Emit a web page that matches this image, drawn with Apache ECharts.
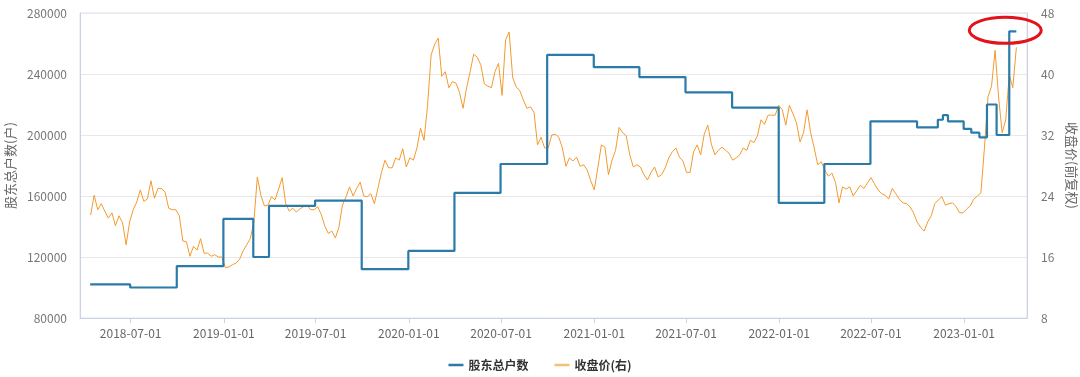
<!DOCTYPE html>
<html>
<head>
<meta charset="utf-8">
<title>股东总户数与收盘价</title>
<script src="https://cdn.jsdelivr.net/npm/echarts@6/dist/echarts.min.js"></script>
<style>
  html, body { margin: 0; padding: 0; background: #fff; }
  #chart { width: 1080px; height: 377px; }
</style>
</head>
<body>
<div id="chart"></div>
<script>
// 股东总户数：每个台阶的起始日期与户数（最后一个点为结束日期）
const holderDates = ['2018-04-12', '2018-06-30', '2018-09-30', '2018-12-31', '2019-02-28', '2019-03-31',
  '2019-06-30', '2019-09-30', '2019-12-31', '2020-03-31', '2020-06-30', '2020-09-30', '2020-12-31',
  '2021-03-31', '2021-06-30', '2021-09-30', '2021-12-31', '2022-03-31', '2022-06-30', '2022-09-30',
  '2022-11-10', '2022-11-20', '2022-11-30', '2022-12-31', '2023-01-15', '2023-01-31', '2023-02-15',
  '2023-03-06', '2023-03-31', '2023-04-14'];
const holderValues = [102000, 100000, 114000, 145000, 120000, 153500,
  157000, 112000, 124000, 162000, 181000, 252500, 244500,
  238000, 228000, 218000, 155500, 181000, 209000, 205000,
  210000, 213000, 209000, 204000, 201500, 198500, 220000,
  200000, 268000, 268000];

// 收盘价(前复权)，周收盘，自 2018-04-13 起每周一个值
const priceStart = '2018-04-13';
const priceValues = [
  21.5, 24.1, 22.2, 23.0, 22.0, 21.1, 21.8, 20.1, 21.4, 20.5,
  17.6, 20.6, 22.2, 23.2, 24.8, 23.3, 23.6, 26.0, 23.7, 25.0,
  25.0, 24.5, 22.4, 22.2, 22.2, 21.4, 18.1, 18.0, 16.1, 17.4,
  16.9, 18.4, 16.5, 16.5, 16.1, 16.3, 16.0, 16.0, 14.6, 14.7,
  15.0, 15.2, 15.7, 16.8, 17.6, 18.4, 20.5, 26.5, 24.1, 22.7,
  22.8, 23.9, 23.5, 24.9, 26.4, 23.0, 22.0, 22.4, 21.9, 22.3,
  22.6, 22.8, 22.2, 22.2, 22.6, 21.6, 20.1, 19.1, 19.4, 18.5,
  19.9, 22.8, 23.9, 25.2, 24.0, 25.0, 25.8, 24.0, 23.9, 24.3,
  23.0, 25.0, 27.1, 28.7, 27.7, 27.7, 29.0, 28.7, 30.2, 27.8,
  29.0, 28.7, 30.3, 32.9, 31.3, 35.9, 42.5, 43.9, 44.7, 39.7,
  40.3, 38.2, 39.0, 38.8, 37.6, 35.5, 38.2, 40.3, 42.6, 42.2,
  41.2, 38.7, 38.4, 38.2, 40.3, 41.4, 37.2, 44.5, 45.5, 39.5,
  38.3, 37.8, 36.6, 35.5, 35.7, 35.0, 30.7, 31.7, 30.3, 30.3,
  32.0, 32.1, 31.7, 30.3, 27.9, 29.0, 28.6, 29.1, 27.9, 28.1,
  27.4, 26.0, 24.8, 27.7, 30.7, 30.4, 26.8, 28.7, 30.0, 33.0,
  32.3, 31.9, 29.4, 27.8, 28.1, 27.8, 26.8, 26.1, 27.1, 27.8,
  26.5, 26.8, 27.7, 29.0, 29.8, 30.3, 29.1, 28.6, 27.1, 27.1,
  29.8, 30.7, 29.4, 32.1, 33.3, 30.8, 29.4, 30.0, 30.4, 30.0,
  29.6, 28.7, 29.0, 29.4, 30.3, 30.0, 31.3, 31.0, 31.9, 34.0,
  33.4, 34.6, 34.6, 34.6, 35.9, 35.3, 33.3, 35.9, 34.8, 33.6,
  31.1, 32.3, 35.3, 32.3, 30.3, 28.1, 28.5, 27.4, 26.6, 27.0,
  25.8, 23.1, 25.2, 24.9, 25.2, 24.0, 24.7, 25.4, 25.0, 25.7,
  26.4, 25.6, 24.8, 24.3, 24.1, 23.6, 25.0, 24.3, 23.6, 23.1,
  23.0, 22.6, 21.8, 20.6, 19.9, 19.4, 20.6, 21.4, 23.0, 23.5,
  23.9, 22.8, 23.0, 23.1, 22.6, 21.8, 21.8, 22.3, 22.7, 23.6,
  24.0, 24.4, 30.3, 37.0, 38.4, 43.1, 36.9, 32.3, 34.0, 39.9,
  38.2, 43.5
];

// x 轴刻度
const tickLabels = ['2018-07-01', '2019-01-01', '2019-07-01', '2020-01-01', '2020-07-01',
  '2021-01-01', '2021-07-01', '2022-01-01', '2022-07-01', '2023-01-01'];

function fmt(d) {
  const m = String(d.getUTCMonth() + 1).padStart(2, '0');
  const day = String(d.getUTCDate()).padStart(2, '0');
  return d.getUTCFullYear() + '-' + m + '-' + day;
}

// 每周日期
const startMs = Date.parse(priceStart + 'T00:00:00Z');
const priceData = priceValues.map((v, i) => [fmt(new Date(startMs + i * 7 * 86400000)), v]);
const holderData = holderDates.map((d, i) => [d, holderValues[i]]);

const chart = echarts.init(document.getElementById('chart'));
const font = '"Noto Sans CJK SC", "Noto Sans", sans-serif';

const option = {
  animation: false,
  textStyle: { fontFamily: font },
  grid: {
    left: 80, right: 53, top: 13, bottom: 59,
    outerBoundsMode: 'none',
    containLabel: false,
    show: true,
    borderColor: '#dfe3f0',
    borderWidth: 1
  },
  legend: {
    bottom: 1,
    left: 'center',
    icon: 'rect',
    itemWidth: 15,
    itemHeight: 2.5,
    itemGap: 26,
    textStyle: { fontSize: 12, color: '#333', fontWeight: 'bold', fontFamily: font },
    data: [
      { name: '股东总户数', itemStyle: { color: '#2b7ba9' } },
      { name: '收盘价(右)', itemStyle: { color: '#f6bf7a' } }
    ]
  },
  xAxis: {
    type: 'time',
    min: '2018-03-23',
    max: '2023-05-05',
    axisLine: { lineStyle: { color: '#ccd2e6' } },
    axisTick: { customValues: tickLabels, length: 5, lineStyle: { color: '#ccd2e6' } },
    axisLabel: {
      customValues: tickLabels,
      formatter: '{yyyy}-{MM}-{dd}',
      color: '#666',
      fontSize: 12,
      margin: 9
    },
    splitLine: { show: false }
  },
  yAxis: [
    {
      type: 'value',
      name: '股东总户数(户)',
      nameLocation: 'middle',
      nameGap: 62,
      nameTextStyle: { color: '#666', fontSize: 13 },
      min: 80000,
      max: 280000,
      interval: 40000,
      axisLine: { show: true, lineStyle: { color: '#ccd2e6' } },
      axisTick: { show: false },
      axisLabel: { color: '#777', fontSize: 12, margin: 13, formatter: v => String(v) },
      splitLine: { lineStyle: { color: '#e8e8ec' } }
    },
    {
      type: 'value',
      name: '收盘价(前复权)',
      nameLocation: 'middle',
      nameRotate: -90,
      nameGap: 38,
      nameTextStyle: { color: '#666', fontSize: 13 },
      min: 8,
      max: 48,
      interval: 8,
      axisLine: { show: true, lineStyle: { color: '#ccd2e6' } },
      axisTick: { show: false },
      axisLabel: { color: '#777', fontSize: 12, margin: 14, formatter: v => String(v) },
      splitLine: { show: false }
    }
  ],
  series: [
    {
      name: '股东总户数',
      type: 'line',
      step: 'end',
      yAxisIndex: 0,
      symbol: 'none',
      z: 3,
      lineStyle: { width: 2.2, color: '#2b7ba9' },
      itemStyle: { color: '#2b7ba9' },
      data: holderData
    },
    {
      name: '收盘价(右)',
      type: 'line',
      yAxisIndex: 1,
      symbol: 'none',
      z: 2,
      lineStyle: { width: 1, color: '#f39a2c' },
      itemStyle: { color: '#f39a2c' },
      data: priceData
    }
  ]
};

chart.setOption(option);

// 红色椭圆标注，位置由最后一期股东户数换算
const last = holderData[holderData.length - 2];
const p = chart.convertToPixel({ xAxisIndex: 0, yAxisIndex: 0 }, last);
chart.setOption({
  graphic: [{
    type: 'ellipse',
    z: 100,
    shape: { cx: p[0] - 4, cy: p[1] - 1, rx: 36, ry: 13 },
    style: { fill: 'none', stroke: '#e3131b', lineWidth: 3 }
  }]
});

window.addEventListener('resize', () => chart.resize());
</script>
</body>
</html>
